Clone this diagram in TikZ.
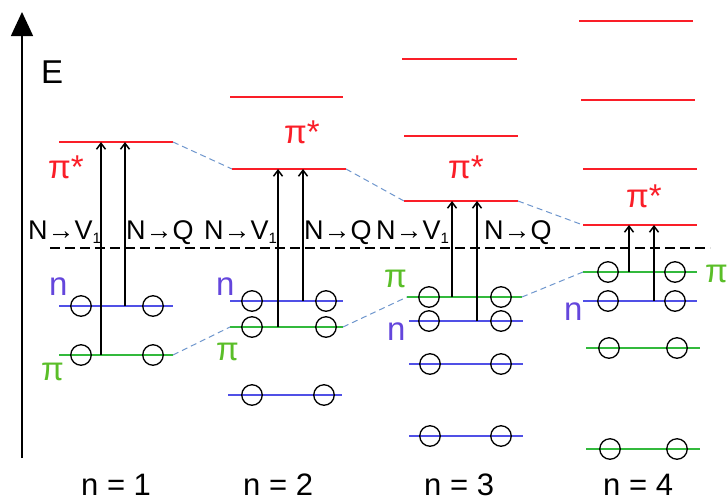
\documentclass[tikz,border=0pt]{standalone}
\usepackage{fontspec}
\setmainfont{Liberation Sans}
\usetikzlibrary{arrows.meta}
\definecolor{lred}{RGB}{250,30,40}
\definecolor{lblue}{RGB}{80,80,230}
\definecolor{lgreen}{RGB}{50,185,60}
\definecolor{dblue}{RGB}{110,150,205}
\definecolor{tblue}{RGB}{100,70,220}
\definecolor{tgreen}{RGB}{90,190,40}
\begin{document}
\begin{tikzpicture}[x=1pt,y=-1pt,
  lvl/.style={line width=1.8pt},
  pslev/.style={lvl,lred},
  nlev/.style={lvl,lblue},
  pilev/.style={lvl,lgreen},
  elec/.style={circle,draw=black,line width=1.3pt,minimum size=20.5pt,inner sep=0pt},
  exc/.style={line width=1.5pt,-{Straight Barb[length=6pt,width=9pt]}},
  corr/.style={dblue,line width=1pt,dash pattern=on 6pt off 4pt},
  trlbl/.style={inner sep=0pt,anchor=base west,font=\fontsize{27}{30}\selectfont},
  biglbl/.style={inner sep=0pt,anchor=base west,font=\fontsize{33}{36}\selectfont},
  collbl/.style={inner sep=0pt,anchor=base west,font=\fontsize{31}{34}\selectfont}]
\useasboundingbox (0,0) rectangle (727,501);

% axis
\coordinate (axb) at (22,458);
\coordinate (axt) at (22,12);
\draw[line width=1.5pt,-{Triangle[length=24pt,width=22pt]}] (axb) -- (axt);
\node[biglbl] (E) at (41,83) {E};

% dashed reference line
\coordinate (dL) at (50,248);
\coordinate (dR) at (710,248);
\draw[line width=1.8pt,dash pattern=on 10pt off 5pt] (dL) -- (dR);

% ---------- column 1 ----------
\coordinate (p1L) at (59,142);  \coordinate (p1R) at (173,142);
\coordinate (n1L) at (59,306);  \coordinate (n1R) at (173,306);
\coordinate (g1L) at (59,355);  \coordinate (g1R) at (173,355);
\draw[pslev] (p1L) -- (p1R);
\draw[nlev] (n1L) -- (n1R);
\draw[pilev] (g1L) -- (g1R);
\node[elec] (e1a) at (81,306) {};  \node[elec] (e1b) at (153,306) {};
\node[elec] (e1c) at (81,355) {};  \node[elec] (e1d) at (153,355) {};
\coordinate (a1s) at (101,355); \coordinate (a1e) at (101,142);
\coordinate (b1s) at (125,306); \coordinate (b1e) at (125,142);
\draw[exc] (a1s) -- (a1e);
\draw[exc] (b1s) -- (b1e);
\node[biglbl,lred] (ps1) at (48,178) {π*};
\node[biglbl,tblue] (nl1) at (49,295) {n};
\node[biglbl,tgreen] (gl1) at (41,380) {π};
\node[trlbl] (t1a) at (28,239) {N→V\raisebox{-0.3ex}{\fontsize{15}{15}\selectfont 1}};
\node[trlbl] (t1b) at (126,239) {N→Q};
\node[collbl] (c1) at (81,495) {n = 1};

% ---------- column 2 ----------
\coordinate (r2L) at (230,97);  \coordinate (r2R) at (343,97);
\coordinate (p2L) at (232,169); \coordinate (p2R) at (346,169);
\coordinate (n2L) at (230,301); \coordinate (n2R) at (343,301);
\coordinate (g2L) at (230,327); \coordinate (g2R) at (343,327);
\coordinate (m2L) at (228,395); \coordinate (m2R) at (342,395);
\draw[pslev] (r2L) -- (r2R);
\draw[pslev] (p2L) -- (p2R);
\draw[nlev] (n2L) -- (n2R);
\draw[pilev] (g2L) -- (g2R);
\draw[nlev] (m2L) -- (m2R);
\node[elec] (e2a) at (252,301) {}; \node[elec] (e2b) at (326,301) {};
\node[elec] (e2c) at (252,327) {}; \node[elec] (e2d) at (326,327) {};
\node[elec] (e2e) at (252,395) {}; \node[elec] (e2f) at (324,395) {};
\coordinate (a2s) at (278,327); \coordinate (a2e) at (278,169);
\coordinate (b2s) at (303,301); \coordinate (b2e) at (303,169);
\draw[exc] (a2s) -- (a2e);
\draw[exc] (b2s) -- (b2e);
\node[biglbl,lred] (ps2) at (284,143) {π*};
\node[biglbl,tblue] (nl2) at (216,295) {n};
\node[biglbl,tgreen] (gl2) at (216,360) {π};
\node[trlbl] (t2a) at (204,239) {N→V\raisebox{-0.3ex}{\fontsize{15}{15}\selectfont 1}};
\node[trlbl] (t2b) at (304,239) {N→Q};
\node[collbl] (c2) at (243,495) {n = 2};

% ---------- column 3 ----------
\coordinate (r3L) at (402,59);  \coordinate (r3R) at (517,59);
\coordinate (s3L) at (404,136); \coordinate (s3R) at (518,136);
\coordinate (p3L) at (404,201); \coordinate (p3R) at (518,201);
\coordinate (g3L) at (407,297); \coordinate (g3R) at (522,297);
\coordinate (n3L) at (409,321); \coordinate (n3R) at (523,321);
\coordinate (m3L) at (409,364); \coordinate (m3R) at (523,364);
\coordinate (k3L) at (409,436); \coordinate (k3R) at (523,436);
\draw[pslev] (r3L) -- (r3R);
\draw[pslev] (s3L) -- (s3R);
\draw[pslev] (p3L) -- (p3R);
\draw[pilev] (g3L) -- (g3R);
\draw[nlev] (n3L) -- (n3R);
\draw[nlev] (m3L) -- (m3R);
\draw[nlev] (k3L) -- (k3R);
\node[elec] (e3a) at (429,297) {}; \node[elec] (e3b) at (501,297) {};
\node[elec] (e3c) at (429,321) {}; \node[elec] (e3d) at (501,321) {};
\node[elec] (e3e) at (430,364) {}; \node[elec] (e3f) at (501,364) {};
\node[elec] (e3g) at (430,436) {}; \node[elec] (e3h) at (501,436) {};
\coordinate (a3s) at (452,297); \coordinate (a3e) at (452,201);
\coordinate (b3s) at (477,321); \coordinate (b3e) at (477,201);
\draw[exc] (a3s) -- (a3e);
\draw[exc] (b3s) -- (b3e);
\node[biglbl,lred] (ps3) at (448,178) {π*};
\node[biglbl,tgreen] (gl3) at (384,287) {π};
\node[biglbl,tblue] (nl3) at (387,340) {n};
\node[trlbl] (t3a) at (376,239) {N→V\raisebox{-0.3ex}{\fontsize{15}{15}\selectfont 1}};
\node[trlbl] (t3b) at (484,239) {N→Q};
\node[collbl] (c3) at (424,495) {n = 3};

% ---------- column 4 ----------
\coordinate (r4L) at (579,21);  \coordinate (r4R) at (693,21);
\coordinate (s4L) at (581,100); \coordinate (s4R) at (695,100);
\coordinate (u4L) at (583,169); \coordinate (u4R) at (697,169);
\coordinate (p4L) at (583,225); \coordinate (p4R) at (697,225);
\coordinate (g4L) at (583,272); \coordinate (g4R) at (697,272);
\coordinate (n4L) at (583,301); \coordinate (n4R) at (697,301);
\coordinate (m4L) at (586,348); \coordinate (m4R) at (700,348);
\coordinate (k4L) at (586,449); \coordinate (k4R) at (700,449);
\draw[pslev] (r4L) -- (r4R);
\draw[pslev] (s4L) -- (s4R);
\draw[pslev] (u4L) -- (u4R);
\draw[pslev] (p4L) -- (p4R);
\draw[pilev] (g4L) -- (g4R);
\draw[nlev] (n4L) -- (n4R);
\draw[pilev] (m4L) -- (m4R);
\draw[pilev] (k4L) -- (k4R);
\node[elec] (e4a) at (608,272) {}; \node[elec] (e4b) at (675,272) {};
\node[elec] (e4c) at (608,301) {}; \node[elec] (e4d) at (675,301) {};
\node[elec] (e4e) at (609,348) {}; \node[elec] (e4f) at (677,348) {};
\node[elec] (e4g) at (610,449) {}; \node[elec] (e4h) at (677,449) {};
\coordinate (a4s) at (629,272); \coordinate (a4e) at (629,225);
\coordinate (b4s) at (654,301); \coordinate (b4e) at (654,225);
\draw[exc] (a4s) -- (a4e);
\draw[exc] (b4s) -- (b4e);
\node[biglbl,lred] (ps4) at (626,207) {π*};
\node[biglbl,tgreen] (gl4) at (705,282) {π};
\node[biglbl,tblue] (nl4) at (564,320) {n};
\node[collbl] (c4) at (603,495) {n = 4};

% ---------- correlation lines ----------
\draw[corr] (p1R) -- (p2L);
\draw[corr] (p2R) -- (p3L);
\draw[corr] (p3R) -- (p4L);
\draw[corr] (g1R) -- (g2L);
\draw[corr] (g2R) -- (g3L);
\draw[corr] (g3R) -- (g4L);
\end{tikzpicture}
\end{document}
